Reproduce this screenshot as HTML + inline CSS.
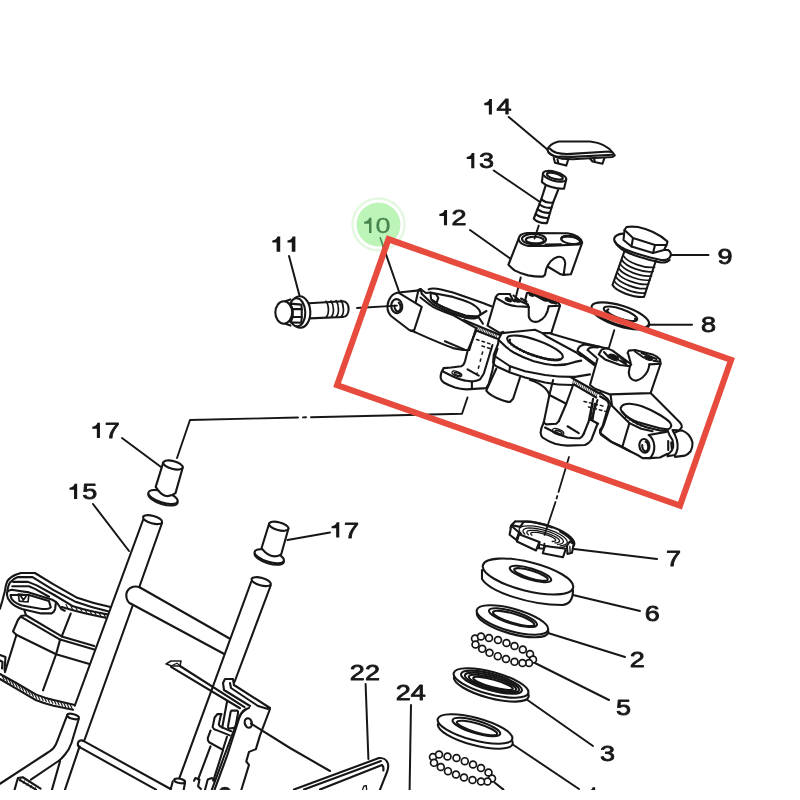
<!DOCTYPE html>
<html><head><meta charset="utf-8"><title>Parts diagram</title>
<style>
html,body{margin:0;padding:0;background:#fff;}
body{width:800px;height:800px;overflow:hidden;font-family:"Liberation Sans",sans-serif;}
svg{display:block;}
svg text{font-family:"Liberation Sans",sans-serif;font-size:21px;fill:#141414;stroke:none;}
</style></head><body>
<svg width="800" height="800" viewBox="0 0 800 800">
<defs><filter id="soft" x="0" y="0" width="800" height="800" filterUnits="userSpaceOnUse"><feGaussianBlur stdDeviation="0.7"/></filter></defs>
<rect width="800" height="800" fill="#ffffff"/>
<g filter="url(#soft)">
<g id="art" fill="none" stroke="#171717" stroke-width="2.1" stroke-linecap="round" stroke-linejoin="round">
<g id="leaders" stroke-width="2.0">
<line x1="508.75" y1="117" x2="548" y2="150"/>
<line x1="493.75" y1="170.5" x2="540" y2="202"/>
<line x1="470" y1="230" x2="509.8" y2="258.2"/>
<line x1="671" y1="255" x2="708.5" y2="255"/>
<line x1="648.75" y1="324.7" x2="692" y2="324.7"/>
<line x1="380" y1="237.25" x2="399.5" y2="293"/>
<line x1="289" y1="256" x2="299.6" y2="296"/>
<line x1="122" y1="438" x2="161" y2="467"/>
<line x1="93" y1="504" x2="129" y2="551"/>
<line x1="287.5" y1="540" x2="330" y2="532.5"/>
<line x1="365.6" y1="684" x2="368.4" y2="759"/>
<line x1="411" y1="705" x2="409.6" y2="790"/>
<line x1="574" y1="549" x2="657" y2="559"/>
<line x1="573" y1="595" x2="640" y2="611"/>
<line x1="548" y1="633" x2="625" y2="657"/>
<line x1="535" y1="663" x2="609" y2="700"/>
<line x1="526" y1="699" x2="593" y2="746"/>
<line x1="512" y1="744" x2="579" y2="789"/>
<line x1="494.5" y1="782.5" x2="503.5" y2="789.6"/>
</g>
<path d="M547.5,150 C548.5,146 552.5,143 558.75,141.5 L590,141.5 C600,142.5 609,147 613.5,153.5 L614.75,155.3 L612.5,157 L572.5,159.2 L561.25,158.6 C552,156 548,153.5 547.5,150 Z" fill="#fff"/>
<path d="M550,148.75 C553,152.5 560,154.6 571.25,153.9 L608.75,151.5 L611.9,152.3"/>
<path d="M548.6,152.6 C551,155.2 556,157 561.25,156.6 L572.5,156.9 L612.6,154.7"/>
<path d="M553.75,158.1 L555,162.75 L566.25,165.6 L568.1,160 M557.5,159.5 L558.5,163.5"/>
<path d="M590,158.5 L592.5,161.5 L602.5,163.75 L604.4,158.1 M594,158.3 L595,162"/>
<path d="M543,173.5 L541.9,181.9 C546,186 556,189 564,188.75 L566.25,179.4" fill="#fff"/>
<ellipse cx="554.6" cy="176.3" rx="12" ry="4.5" transform="rotate(15.4 554.6 176.3)" fill="#fff"/>
<ellipse cx="554.9" cy="176.2" rx="8.2" ry="2.7" transform="rotate(15.4 554.9 176.2)"/>
<path d="M545.6,185.6 L541.25,199.4 M558.1,190 L553.1,202.5"/>
<path d="M541.25,199.4 L533.75,218.75 Q538.5,223.6 546.9,223.1 L553.1,202.5"/>
<path d="M541.2,199.4 Q546.4,203.5 553.1,202.5"/>
<path d="M539.4,204.2 Q544.7,208.5 551.5,207.7"/>
<path d="M537.5,209.1 Q543.0,213.5 550.0,212.8"/>
<path d="M535.6,213.9 Q541.2,218.5 548.5,217.9"/>
<path d="M518.6,238.9 L508.4,264.75 C510.5,267 512.5,268.8 514.6,270.4 C519,272.8 523.5,274.4 528.1,275.4 C533,276.3 538,276.7 542.75,276.6 L545,274.9 L546.1,269.25 C547.3,266 548.8,263.5 550.6,261.4 C552.6,259.2 554.8,257.7 557.4,256.9 C559.6,256.4 561.5,256.8 563,258 C564.4,259.4 565.2,261.3 565.25,263.6 L563.6,274.9 L570.9,274.3 L582.1,242.8 Z" fill="#fff"/>
<path d="M518.6,238.9 C519,237 519.8,235.8 520.8,234.9 C522.5,233.8 524.5,233.2 527,233 L567.5,233.25 C571.5,233.8 575,235 577.6,236.6 C580,238.2 581.6,240.2 582.1,242.25 C581.4,243.5 580.3,244.2 578.75,244.5 L547.25,245.85 L528.1,245.85 C525.5,245.4 523.2,244.6 521.4,243.4 C519.8,242.2 518.8,240.6 518.6,238.9 Z" fill="#fff"/>
<ellipse cx="534" cy="239.2" rx="12" ry="5.2" transform="rotate(2 534 239.2)"/>
<ellipse cx="534.8" cy="240.1" rx="9" ry="3.3" transform="rotate(2 534.8 240.1)"/>
<ellipse cx="570.6" cy="240.2" rx="9.6" ry="3.6" transform="rotate(9 570.6 240.2)"/>
<path d="M561.9,237.8 L562.1,237.5 L562.4,237.1 L562.9,236.9 L563.4,236.6 L564.1,236.4 L564.8,236.2 L565.7,236.1 L566.6,236.1 L567.5,236.0 L568.5,236.0 L569.6,236.1 L570.6,236.2 L571.7,236.4 L572.7,236.6 L573.7,236.8 L574.7,237.1 L575.7,237.4 L576.5,237.7 L577.3,238.1 L578.0,238.5 L578.6,238.9 L579.1,239.3 L579.5,239.7 L579.8,240.1" stroke-width="2.6"/>
<path d="M545.5,244.6 L561,244.2"/>
<path d="M548.4,267 L560.75,274.3 L563.6,274.9"/>
<path d="M625.25,249 L612.5,285 C616,291 632,297.5 644,297 L656,260.25" fill="#fff"/>
<path d="M623.7,256.1 C627.7,262.6 644.5,268.8 654.5,267.2" stroke-width="1.75"/>
<path d="M622.1,260.2 C626.1,266.8 643.0,273.0 653.0,271.5" stroke-width="1.75"/>
<path d="M620.5,264.4 C624.5,270.9 641.5,277.2 651.5,275.8" stroke-width="1.75"/>
<path d="M618.9,268.5 C622.9,275.0 640.0,281.5 650.0,280.0" stroke-width="1.75"/>
<path d="M617.3,272.6 C621.3,279.1 638.5,285.8 648.5,284.2" stroke-width="1.75"/>
<path d="M615.7,276.8 C619.7,283.2 637.0,290.0 647.0,288.5" stroke-width="1.75"/>
<path d="M614.1,280.9 C618.1,287.4 635.5,294.2 645.5,292.8" stroke-width="1.75"/>
<path d="M623,233.6 C618.5,234 615.3,235.6 614.2,238.4 C613.8,240.5 615,242.6 617,244.3 C619.5,246.3 622,247.8 625,249.2 C631,251.8 638,254 645,256.1 C651,257.8 656,259.2 661,260 C664.5,260.4 667.2,259.8 669,258.2 C670.6,256.6 671.2,254.8 670.6,253 C670,251.6 669,250.6 668,250 L664,250" fill="#fff"/>
<path d="M614.6,241.2 C616.5,245 620.5,248.6 625,251.3 C631,254.3 638,256.6 645,258.6 C651,260.4 656,261.8 661,262.5 C664.5,262.8 667.5,262 669.6,260"/>
<path d="M624.5,230 L626.5,227 C630,226.4 634,226.5 638,227 C643,228 648,229.7 653,232 C658.5,234.6 663.5,237.8 667.5,241.5 L666.5,245 L664,250 L653,253 L631.5,246.5 L623.5,240 Z" fill="#fff"/>
<path d="M624.5,230 L633,238 L655,245 L666.5,245 M633,238 L631.5,246.5 M655,245 L653,253"/>
<ellipse cx="620.4" cy="316.6" rx="30" ry="9.6" transform="rotate(17.5 620.4 316.6)" fill="#fff"/>
<ellipse cx="620.25" cy="315.25" rx="30" ry="9.6" transform="rotate(17.5 620.25 315.25)" fill="#fff"/>
<ellipse cx="620.5" cy="313.9" rx="17.6" ry="4.9" transform="rotate(19 620.5 313.9)"/>
<path d="M635.0,318.6 L635.5,319.4 L635.5,320.0 L635.2,320.5 L634.6,320.9 L633.6,321.1 L632.2,321.2 L630.7,321.1 L628.8,320.8 L626.8,320.5 L624.6,320.0 L622.4,319.3 L620.1,318.6 L617.9,317.8 L615.7,316.9 L613.7,316.0 L611.9,315.0 L610.3,314.1 L609.0,313.2 L608.0,312.3 L607.4,311.5 L607.1,310.8 L607.2,310.2 L607.6,309.8 L608.4,309.4"/>
<path d="M309,303.2 L343,301.2 C346.5,301.5 348.6,305 348.6,309 C348.6,313.5 346.5,316.8 343,317 L309,318.4 Z" fill="#fff"/>
<path d="M326,301.2 C329.2,305 329.2,314 326.3,316.9" stroke-width="1.7"/>
<path d="M331,300.9 C334.2,305 334.2,314 331.3,316.7" stroke-width="1.7"/>
<path d="M336,300.6 C339.2,305 339.2,314 336.3,316.5" stroke-width="1.7"/>
<path d="M341,300.3 C344.2,305 344.2,314 341.3,316.3" stroke-width="1.7"/>
<ellipse cx="300" cy="312" rx="10.3" ry="15.7" transform="rotate(-2 300 312)" fill="#fff"/>
<ellipse cx="297" cy="312.3" rx="8.3" ry="14.1" transform="rotate(-2 297 312.3)" fill="#fff"/>
<path d="M292.75,309.1 L301.75,309.1 L301.75,317 L292.75,317 Z"/>
<path d="M290.2,303.6 L292.75,309.1 M301.75,309.1 L301.4,304.6 L290.2,303.6 M292.75,317 L290.5,322.4 L301.2,322.8 L301.75,317"/>
<path d="M284.9,301.4 L290.4,299.4 M284.9,323.6 L290.4,325.6"/>
<ellipse cx="283.75" cy="312.5" rx="8.4" ry="11.2" fill="#fff"/>
<ellipse cx="163" cy="498.6" rx="15.2" ry="5.6" transform="rotate(17 163 498.6)" fill="#fff"/>
<ellipse cx="163" cy="497" rx="15.2" ry="5.6" transform="rotate(17 163 497)" fill="#fff"/>
<path d="M163.3,462.4 L155.7,486.9 Q164.5,501.3 175.5,493.1 L182.7,467.6" fill="#fff"/>
<ellipse cx="173" cy="465" rx="10" ry="3.9" transform="rotate(15 173 465)" fill="#fff"/>
<ellipse cx="269.25" cy="557.85" rx="15.2" ry="5.6" transform="rotate(17 269.25 557.85)" fill="#fff"/>
<ellipse cx="269.25" cy="556.25" rx="15.2" ry="5.6" transform="rotate(17 269.25 556.25)" fill="#fff"/>
<path d="M269.1,523.7 L261.5,548.2 Q270.8,560.5 281.2,554.3 L288.4,528.8" fill="#fff"/>
<ellipse cx="278.75" cy="526.25" rx="10" ry="3.9" transform="rotate(15 278.75 526.25)" fill="#fff"/>
<path d="M251.3,581.5 L178.9,779.4 M270.7,585.5 L234.5,682"/>
<ellipse cx="261.2" cy="581.6" rx="9.9" ry="3.8" transform="rotate(15 261.2 581.6)" fill="#fff"/>
<path d="M140,587.5 L230,638.75 M131,603.75 L223.75,653.75"/>
<path d="M140,587.5 C134,584.8 127,588 126.3,594.5 C126,599.5 128.5,603 131,603.75"/>
<path d="M143.2,519.5 L74.75,705.75 M162,523 L139.3,587 M132.5,606 L84.5,740 M79.6,746.4 L65,789.6"/>
<ellipse cx="152.6" cy="519.6" rx="9.9" ry="3.8" transform="rotate(15 152.6 519.6)" fill="#fff"/>
<path d="M511.1,529.6 L510.6,527.8 L510.9,526.1 L511.9,524.6 L513.6,523.4 L516.0,522.5 L518.9,521.9 L522.4,521.5 L526.4,521.5 L530.7,521.9 L535.2,522.5 L540.0,523.4 L544.8,524.6 L549.5,526.0 L554.1,527.7 L558.4,529.5 L562.4,531.5 L565.9,533.6 L568.9,535.7 L571.3,537.8 L573.0,539.9 L574.0,541.8 L574.4,543.7 L574.0,545.3 L572.9,546.7" fill="#fff"/>
<path d="M521.3,533.5 L519.9,531.8 L519.1,530.2 L519.2,528.8 L520.1,527.6 L521.7,526.7 L524.1,526.1 L527.0,525.8 L530.5,525.8 L534.4,526.2 L538.7,526.9 L543.0,527.9 L547.4,529.1 L551.6,530.6 L555.6,532.2 L559.1,534.0 L562.1,535.8 L564.5,537.6 L566.2,539.4 L567.1,541.0 L567.3,542.5 L566.6,543.7 L565.2,544.7 L563.1,545.4 L560.3,545.8" stroke-width="1.3"/>
<path d="M524.9,534.1 L523.6,532.7 L523.0,531.4 L523.1,530.3 L523.8,529.4 L525.1,528.7 L527.1,528.2 L529.5,528.0 L532.5,528.1 L535.8,528.5 L539.3,529.1 L542.9,529.9 L546.6,531.0 L550.2,532.2 L553.5,533.5 L556.5,535.0 L559.0,536.5 L561.0,537.9 L562.5,539.3 L563.3,540.7 L563.4,541.8 L562.9,542.8 L561.7,543.6 L559.9,544.1 L557.6,544.3" stroke-width="1.3"/>
<path d="M528.4,534.7 L527.4,533.6 L526.9,532.6 L526.9,531.8 L527.4,531.2 L528.5,530.7 L530.1,530.4 L532.1,530.3 L534.4,530.4 L537.1,530.7 L539.9,531.3 L542.9,531.9 L545.8,532.8 L548.7,533.8 L551.4,534.8 L553.8,536.0 L555.9,537.1 L557.6,538.2 L558.8,539.3 L559.4,540.3 L559.6,541.2 L559.2,541.9 L558.2,542.4 L556.8,542.8 L554.9,542.9" stroke-width="1.3"/>
<path d="M532.0,535.2 L531.1,534.5 L530.7,533.8 L530.7,533.3 L531.1,532.8 L531.9,532.5 L533.1,532.3 L534.6,532.3 L536.4,532.4 L538.4,532.7 L540.6,533.1 L542.8,533.7 L545.1,534.3 L547.3,535.1 L549.4,535.9 L551.3,536.7 L552.9,537.5 L554.1,538.3 L555.1,539.1 L555.6,539.8 L555.7,540.4 L555.4,540.9 L554.7,541.2 L553.7,541.4 L552.2,541.5" stroke-width="1.3"/>
<path d="M565.4,546.1 L564.6,546.6 L563.5,547.0 L562.1,547.4 L560.4,547.5 L558.6,547.6 L556.5,547.5 L554.2,547.4 L551.8,547.1 L549.2,546.6 L546.6,546.1 L543.9,545.5 L541.2,544.7 L538.5,543.9 L535.9,543.1 L533.4,542.1 L531.0,541.1 L528.8,540.1 L526.8,539.0 L525.0,538.0 L523.4,536.9 L522.1,535.9 L521.1,534.9 L520.4,534.0 L520.0,533.1" stroke-width="1.5"/>
<path d="M511.8,525.2 L515.2,521.25 L523.6,521.8 L520.25,526.9 Z" fill="#fff"/>
<path d="M511.25,525.75 L509.6,534.75 L516.3,539.8 L519.1,532.5 Z" fill="#fff"/>
<path d="M519.1,534.2 L516.9,541.5 L536,550.5 L539.4,542 Z" fill="#fff"/>
<path d="M539.4,542 L538.8,548.25 L543.9,548.8 L544.4,543.75"/>
<path d="M545,546 L542.75,553.3 L563,557.25 L565.8,548.8 Z" fill="#fff"/>
<path d="M566.9,546 L567.5,553.9 L572,552.75 L573.7,543.75 L569.75,541.5 Z" fill="#fff"/>
<path d="M569.8,546.3 L570.2,553.2" stroke-width="1.3"/>
<path d="M523.6,521.8 C530,521 540,523 552,527.5 M560,531.5 C566,534.5 571,538.5 573.7,543.75"/>
<path d="M569,457 L558.5,492 M557.3,496 L556.6,498.5 M555.5,502 L544.5,535" stroke-width="1.8"/>
<path d="M482,570 L482,579 C490,592 530,605 562,605 C570,604.5 573,598 573,590" fill="#fff"/>
<ellipse cx="528" cy="576.5" rx="46.5" ry="14.5" transform="rotate(14 528 576.5)" fill="#fff"/>
<ellipse cx="530.5" cy="574" rx="21.6" ry="5.6" transform="rotate(17 530.5 574)"/>
<ellipse cx="531" cy="574.5" rx="17.5" ry="3.9" transform="rotate(17 531 574.5)"/>
<ellipse cx="512.6" cy="622.6" rx="37" ry="11.2" transform="rotate(15.7 512.6 622.6)" fill="#fff"/>
<ellipse cx="512.4" cy="620" rx="37" ry="11.2" transform="rotate(15.7 512.4 620)" fill="#fff"/>
<ellipse cx="513" cy="617.6" rx="25" ry="6.2" transform="rotate(17 513 617.6)"/>
<ellipse cx="513.6" cy="618.4" rx="21.5" ry="4.6" transform="rotate(17 513.6 618.4)"/>
<circle cx="475" cy="638.5" r="3.45" fill="#fff" stroke-width="1.7"/>
<circle cx="481" cy="636.5" r="3.45" fill="#fff" stroke-width="1.7"/>
<circle cx="489" cy="638" r="3.45" fill="#fff" stroke-width="1.7"/>
<circle cx="498" cy="640" r="3.45" fill="#fff" stroke-width="1.7"/>
<circle cx="506.5" cy="643" r="3.45" fill="#fff" stroke-width="1.7"/>
<circle cx="514.5" cy="646" r="3.45" fill="#fff" stroke-width="1.7"/>
<circle cx="522.8" cy="649.5" r="3.45" fill="#fff" stroke-width="1.7"/>
<circle cx="530" cy="654" r="3.45" fill="#fff" stroke-width="1.7"/>
<circle cx="533" cy="659.5" r="3.45" fill="#fff" stroke-width="1.7"/>
<circle cx="529" cy="663" r="3.45" fill="#fff" stroke-width="1.7"/>
<circle cx="522.5" cy="663" r="3.45" fill="#fff" stroke-width="1.7"/>
<circle cx="514.5" cy="661.8" r="3.45" fill="#fff" stroke-width="1.7"/>
<circle cx="506" cy="659" r="3.45" fill="#fff" stroke-width="1.7"/>
<circle cx="497.8" cy="656.2" r="3.45" fill="#fff" stroke-width="1.7"/>
<circle cx="489.5" cy="652.8" r="3.45" fill="#fff" stroke-width="1.7"/>
<circle cx="482.2" cy="648.8" r="3.45" fill="#fff" stroke-width="1.7"/>
<circle cx="475.5" cy="644.5" r="3.45" fill="#fff" stroke-width="1.7"/>
<ellipse cx="491.3" cy="686.9" rx="38.6" ry="11.2" transform="rotate(15 491.3 686.9)" fill="#fff"/>
<ellipse cx="491" cy="683" rx="38.6" ry="11.2" transform="rotate(15 491 683)" fill="#fff"/>
<ellipse cx="491.5" cy="682.2" rx="31.5" ry="8.2" transform="rotate(15.5 491.5 682.2)"/>
<ellipse cx="492" cy="682.6" rx="28" ry="6.8" transform="rotate(15.5 492 682.6)"/>
<ellipse cx="492.5" cy="683" rx="24.5" ry="5.4" transform="rotate(15.5 492.5 683)"/>
<ellipse cx="493" cy="683.4" rx="20.5" ry="3.8" transform="rotate(15.5 493 683.4)"/>
<ellipse cx="475.3" cy="734" rx="38.6" ry="11.2" transform="rotate(15 475.3 734)" fill="#fff"/>
<ellipse cx="475" cy="729" rx="38.6" ry="11.2" transform="rotate(15 475 729)" fill="#fff"/>
<ellipse cx="476.4" cy="727" rx="24.8" ry="6.2" transform="rotate(16.5 476.4 727)"/>
<ellipse cx="477" cy="728" rx="21" ry="4.4" transform="rotate(16.5 477 728)"/>
<circle cx="433" cy="757" r="3.45" fill="#fff" stroke-width="1.7"/>
<circle cx="439" cy="754.5" r="3.45" fill="#fff" stroke-width="1.7"/>
<circle cx="447.5" cy="756.5" r="3.45" fill="#fff" stroke-width="1.7"/>
<circle cx="456.5" cy="758" r="3.45" fill="#fff" stroke-width="1.7"/>
<circle cx="464.8" cy="761.2" r="3.45" fill="#fff" stroke-width="1.7"/>
<circle cx="473" cy="764.5" r="3.45" fill="#fff" stroke-width="1.7"/>
<circle cx="481" cy="768" r="3.45" fill="#fff" stroke-width="1.7"/>
<circle cx="488.5" cy="772.5" r="3.45" fill="#fff" stroke-width="1.7"/>
<circle cx="492" cy="778.5" r="3.45" fill="#fff" stroke-width="1.7"/>
<circle cx="487.5" cy="781.5" r="3.45" fill="#fff" stroke-width="1.7"/>
<circle cx="481" cy="781.5" r="3.45" fill="#fff" stroke-width="1.7"/>
<circle cx="472.5" cy="780" r="3.45" fill="#fff" stroke-width="1.7"/>
<circle cx="464" cy="777.5" r="3.45" fill="#fff" stroke-width="1.7"/>
<circle cx="456" cy="774.5" r="3.45" fill="#fff" stroke-width="1.7"/>
<circle cx="448" cy="771.2" r="3.45" fill="#fff" stroke-width="1.7"/>
<circle cx="440.8" cy="767" r="3.45" fill="#fff" stroke-width="1.7"/>
<circle cx="434" cy="762.8" r="3.45" fill="#fff" stroke-width="1.7"/>
<g id="bracket">
<path d="M398.6,292.5 C392.4,293.1 388,298.75 387.4,306.25 C387.3,312 390,315.5 393,317.5 L409.25,330 L413,331.25 C424.25,336.25 439.25,343.1 453,348.1 L463,350 L469.25,350"/>
<ellipse cx="396.75" cy="306.2" rx="5.5" ry="7.1" transform="rotate(-6 396.75 306.2)"/>
<path d="M398.7,302.7 L399.2,303.1 L399.6,303.7 L400.0,304.4 L400.3,305.2 L400.5,306.0 L400.6,306.9 L400.6,307.7 L400.5,308.6 L400.3,309.3 L399.9,310.0 L399.5,310.6 L399.1,311.0 L398.5,311.3 L398.0,311.4 L397.4,311.3 L396.9,311.1 L396.3,310.8 L395.8,310.3 L395.4,309.6 L395.1,308.9 L394.8,308.1 L394.6,307.2 L394.6,306.4 L394.6,305.5"/>
<path d="M398.6,292.5 L416.75,290.6 L420.5,289"/>
<path d="M399.25,293.1 L421.75,306.9 L414.25,330 L411,330.9"/>
<path d="M420.5,289 L418,291.9 L415.75,301.9"/>
<path d="M420.5,289 L426,293 L430.5,292.5 M420.8,290 L421.75,293.75"/>
<path d="M428.6,289.4 C431,288.3 435.5,288.3 441,289.5 L453,292.5 L483,303 L491.3,306.2"/>
<path d="M430.5,292.5 L436.75,293.75 L453,296.9 C460,299 466,301 470.5,303.1 C475,305.5 478,308 479.25,310 C480.6,312.5 480.6,314.4 479.9,315 C479,316.2 477.5,316.4 475.5,316.25 C472,316.3 468.5,316 465.5,315.6 L453,311.25 C446,308.5 440.5,306 436.75,303.75 C433,301.5 431,299.5 431,298.75 Z"/>
<path d="M431.2,293 L436,294.2 L438.3,297.8 L436.6,302.8 L432,300"/>
<path d="M421.75,293.75 C426,298 429,300.8 433,304.4 C439,308.2 446,311 453,313.6 L465.5,317.8 C470,318.6 475,318.6 478.5,317.2 L483,323.75"/>
<path d="M420.5,297.5 C425,301 429,304.5 433,306.9 C440,310.5 446,312.5 453,315 L476.1,328.1"/>
<path d="M433.5,301.8 l-1.0,2.4" stroke-width="1.25"/>
<path d="M435.2,302.6 l-1.0,2.4" stroke-width="1.25"/>
<path d="M436.9,303.4 l-1.0,2.4" stroke-width="1.25"/>
<path d="M438.6,304.3 l-1.0,2.4" stroke-width="1.25"/>
<path d="M440.3,305.1 l-1.0,2.4" stroke-width="1.25"/>
<path d="M442.0,305.9 l-1.0,2.4" stroke-width="1.25"/>
<path d="M443.7,306.7 l-1.0,2.4" stroke-width="1.25"/>
<path d="M445.4,307.6 l-1.0,2.4" stroke-width="1.25"/>
<path d="M447.1,308.4 l-1.0,2.4" stroke-width="1.25"/>
<path d="M448.8,309.2 l-1.0,2.4" stroke-width="1.25"/>
<path d="M450.5,310.0 l-1.0,2.4" stroke-width="1.25"/>
<path d="M452.2,310.9 l-1.0,2.4" stroke-width="1.25"/>
<path d="M453.9,311.6 l-1.0,2.4" stroke-width="1.25"/>
<path d="M455.6,312.2 l-1.0,2.4" stroke-width="1.25"/>
<path d="M457.3,312.7 l-1.0,2.4" stroke-width="1.25"/>
<path d="M459.0,313.3 l-1.0,2.4" stroke-width="1.25"/>
<path d="M460.7,313.9 l-1.0,2.4" stroke-width="1.25"/>
<path d="M462.4,314.5 l-1.0,2.4" stroke-width="1.25"/>
<path d="M464.1,315.1 l-1.0,2.4" stroke-width="1.25"/>
<path d="M465.8,315.6 l-1.0,2.4" stroke-width="1.25"/>
<path d="M467.5,315.8 l-1.0,2.4" stroke-width="1.25"/>
<path d="M469.2,315.9 l-1.0,2.4" stroke-width="1.25"/>
<path d="M470.9,316.0 l-1.0,2.4" stroke-width="1.25"/>
<path d="M472.6,316.1 l-1.0,2.4" stroke-width="1.25"/>
<path d="M474.3,316.3 l-1.0,2.4" stroke-width="1.25"/>
<path d="M476.0,316.4 l-1.0,2.4" stroke-width="1.25"/>
<path d="M476.1,328.1 L469.25,350"/>
<path d="M444.9,341.25 L464.25,349.4"/>
<path d="M479.9,315 L486.5,311"/>
<path d="M476.25,330.6 L467.5,351.25 L465,361.25 C464,364.5 463,365.8 461.25,366.25 L451.25,367.5 L443.75,368.1"/>
<path d="M443.75,368.1 C441.5,371 440.6,374 440.6,377.5 C441,380 442,381.5 443.75,382.5 C448,385 451,386.2 455,387.5 C459,388.7 463,389.2 466.25,389.4 L486.25,388.1 L488.75,383.75 L492.5,370 L495,356.25 L497.5,348.75"/>
<path d="M442.5,371.25 L452.5,376.25 C457,378.5 461,379.8 465,380.6 C468,381.3 471,381.5 473.75,381.25 C476.5,381 478.5,380.4 480,379.4 L483.75,373.75 L492.5,345"/>
<ellipse cx="456.9" cy="373.9" rx="5.2" ry="2.2" transform="rotate(22 456.9 373.9)" stroke-width="1.3"/>
<ellipse cx="457.3" cy="374.1" rx="3.2" ry="1.1" transform="rotate(22 457.3 374.1)" stroke-width="1.6"/>
<path d="M467.5,369.4 L478.75,375.6 M471.9,382 L471.9,389"/>
<path d="M463.75,320 L500,335 M476.25,330.6 L497.5,338.75"/>
<path d="M478.0,327.2 l-1.6,3.8" stroke-width="0.8"/>
<path d="M479.6,327.8 l-1.6,3.8" stroke-width="0.8"/>
<path d="M481.2,328.5 l-1.6,3.8" stroke-width="0.8"/>
<path d="M482.8,329.1 l-1.6,3.8" stroke-width="0.8"/>
<path d="M484.3,329.8 l-1.6,3.8" stroke-width="0.8"/>
<path d="M485.9,330.4 l-1.6,3.8" stroke-width="0.8"/>
<path d="M487.5,331.1 l-1.6,3.8" stroke-width="0.8"/>
<path d="M489.1,331.8 l-1.6,3.8" stroke-width="0.8"/>
<path d="M490.7,332.4 l-1.6,3.8" stroke-width="0.8"/>
<path d="M492.2,333.1 l-1.6,3.8" stroke-width="0.8"/>
<path d="M493.8,333.7 l-1.6,3.8" stroke-width="0.8"/>
<path d="M495.4,334.4 l-1.6,3.8" stroke-width="0.8"/>
<path d="M497.0,335.0 l-1.6,3.8" stroke-width="0.8"/>
<g stroke-width="1.5" stroke-dasharray="2.6 3.2">
<path d="M476.5,339.5 L492,344.5 M482,346 L493,349.5"/>
</g>
<g stroke-width="1.5" stroke-dasharray="2.4 4.8">
<path d="M482.6,352 L476.9,374"/>
</g>
<path d="M496.25,368.75 L486.25,390.6 C489,394.5 495,397.5 501,399.7 C505,401.2 508,402 510,401.9 L513.1,398.75 L520,377.5"/>
<path d="M530,380 C535,381.3 541,384.5 545,388 C547.5,390.5 548.8,393 549.4,395 L566.25,403.75"/>
<path d="M553.1,380 L549.4,395 L543.75,422.5 M573.1,385 L566.25,403.75 L558.75,421.25"/>
<path d="M501.9,333.1 L535,329.75 L542.5,333.1 L551.25,333.1"/>
<path d="M501.9,333.1 L498.75,338.75 L498.1,343.75 L493.75,355 L493.1,362.5 C494,364.5 495,365.5 496.25,366.25 L510,372.5 L525,377.5 L545,382.5 C555,384.5 565,385.2 575,385"/>
<path d="M495,356.25 L510,366.25 L525,371.25 L545,375 C555,376.5 565,377 575,376.9 L590,374.4"/>
<path d="M510,366.25 L509.4,372"/>
<path d="M498.75,340 C503,344.5 508,349 513.75,352.5 C520,356 527,359 533.75,361.25 C540,363 546,364.3 552.5,365 C560,365.6 568,364.5 575,361.9 L581.25,360.6"/>
<ellipse cx="535" cy="347.6" rx="29.4" ry="7.6" transform="rotate(19.4 535 347.6)"/>
<path d="M560.8,359.3 L559.7,359.8 L558.3,360.1 L556.5,360.2 L554.3,360.2 L551.9,360.0 L549.2,359.6 L546.2,359.1 L543.1,358.4 L539.9,357.5 L536.6,356.5 L533.3,355.4 L530.0,354.2 L526.9,352.9 L523.8,351.5 L521.0,350.1 L518.4,348.7 L516.0,347.3 L514.0,346.0 L512.3,344.7 L511.0,343.4 L510.1,342.3 L509.7,341.2 L509.6,340.3 L510.0,339.6"/>
<path d="M558.6,358.8 l-0.8,2.0" stroke-width="1.0"/>
<path d="M556.1,359.0 l-0.8,2.0" stroke-width="1.0"/>
<path d="M553.0,358.8 l-0.8,2.0" stroke-width="1.0"/>
<path d="M549.5,358.4 l-0.8,2.0" stroke-width="1.0"/>
<path d="M545.6,357.7 l-0.8,2.0" stroke-width="1.0"/>
<path d="M541.5,356.7 l-0.8,2.0" stroke-width="1.0"/>
<path d="M537.2,355.5 l-0.8,2.0" stroke-width="1.0"/>
<path d="M532.8,354.0 l-0.8,2.0" stroke-width="1.0"/>
<path d="M528.5,352.4 l-0.8,2.0" stroke-width="1.0"/>
<path d="M524.3,350.7 l-0.8,2.0" stroke-width="1.0"/>
<path d="M520.5,348.8 l-0.8,2.0" stroke-width="1.0"/>
<path d="M517.1,346.9 l-0.8,2.0" stroke-width="1.0"/>
<path d="M514.1,345.1 l-0.8,2.0" stroke-width="1.0"/>
<path d="M511.7,343.3 l-0.8,2.0" stroke-width="1.0"/>
<path d="M509.9,341.6 l-0.8,2.0" stroke-width="1.0"/>
<path d="M508.8,340.0 l-0.8,2.0" stroke-width="1.0"/>
<path d="M551.25,333.75 L581.25,342.5 L608.1,348.75"/>
<path d="M542.5,333.1 L546.25,336.25 L576.25,352.5 L581.25,356.25"/>
<path d="M577.5,351 C578,347.5 581,345 585,344.4 L600,346.9 M577.5,351 L595,363.75 M579,353.5 L594,365"/>
<path d="M587.5,350 C589,347.5 592,346.5 597.5,347.5 M587.5,350 L596.25,357.5"/>
<path d="M495.6,298 L487.5,325.6 L500,333.1 L503.1,331.9"/>
<path d="M495.6,297.5 C496.5,295.5 497.5,294.5 498.75,294 L510,294 M496.25,298.1 L506.25,303.75 C510,305.2 513,305.9 516.25,306.25 L528.75,306.9"/>
<ellipse cx="508.5" cy="299.8" rx="3.6" ry="1.7" transform="rotate(22 508.5 299.8)" fill="#171717" stroke-width="1.0"/>
<ellipse cx="517.3" cy="300.6" rx="3.2" ry="1.5" transform="rotate(14 517.3 300.6)" fill="#171717" stroke-width="1.0"/>
<path d="M510,294.5 L513.5,301 M513.5,295.5 L521,301.5 L528,304.5 M521,298.5 L526.5,301.5"/>
<path d="M528.75,306.9 L528.75,316.25 C529.3,318.8 530.7,320.5 532.5,321.25 C534.5,322 536.8,322 538.75,321.25 C541.5,320 543.5,318.3 545,316.25 C547,313.3 548.2,310 548.75,306.25"/>
<path d="M528.75,306.9 L525,301.25 L526.9,293.1 L530,292.5 L558.75,303.1 L560,305.6 L548.75,306.25"/>
<path d="M560,305.6 L551.25,333.1"/>
<ellipse cx="531.5" cy="294.8" rx="2.6" ry="1.3" transform="rotate(20 531.5 294.8)" fill="#171717" stroke-width="1.0"/>
<ellipse cx="544.5" cy="299.3" rx="3.6" ry="1.5" transform="rotate(20 544.5 299.3)" fill="#171717" stroke-width="1.0"/>
<ellipse cx="551.5" cy="301.8" rx="2.6" ry="1.2" transform="rotate(20 551.5 301.8)" fill="#171717" stroke-width="1.0"/>
<path d="M534,294.8 L541,298.6 M548,300.5 L556,303.6"/>
<path d="M571.25,377.5 L600,393.75 M573.75,384.4 L596.25,397.5"/>
<path d="M574.0,379.2 l-1.5,4.4" stroke-width="0.75"/>
<path d="M575.7,380.2 l-1.5,4.4" stroke-width="0.75"/>
<path d="M577.4,381.1 l-1.5,4.4" stroke-width="0.75"/>
<path d="M579.0,382.1 l-1.5,4.4" stroke-width="0.75"/>
<path d="M580.7,383.0 l-1.5,4.4" stroke-width="0.75"/>
<path d="M582.4,384.0 l-1.5,4.4" stroke-width="0.75"/>
<path d="M584.1,384.9 l-1.5,4.4" stroke-width="0.75"/>
<path d="M585.8,385.9 l-1.5,4.4" stroke-width="0.75"/>
<path d="M587.4,386.9 l-1.5,4.4" stroke-width="0.75"/>
<path d="M589.1,387.8 l-1.5,4.4" stroke-width="0.75"/>
<path d="M590.8,388.8 l-1.5,4.4" stroke-width="0.75"/>
<path d="M592.5,389.7 l-1.5,4.4" stroke-width="0.75"/>
<path d="M594.1,390.7 l-1.5,4.4" stroke-width="0.75"/>
<path d="M595.8,391.6 l-1.5,4.4" stroke-width="0.75"/>
<path d="M597.5,392.6 l-1.5,4.4" stroke-width="0.75"/>
<path d="M600,396.25 L606.25,400 C608,401.5 608.9,403 608.75,405 L602.5,426.25 L600,430 C599.8,432 600.3,433.8 601.25,435 L610,441.25 L621.25,446.25 L630,451.25"/>
<path d="M593.1,398.75 L588.75,421.25 L583.75,433.75 M597.5,400 L591.25,420 L598.1,423.75"/>
<path d="M592.5,403.75 L590,420 M595,403.75 L592.5,420"/>
<g stroke-width="1.5" stroke-dasharray="2.6 3.0">
<path d="M584,401.5 L603,406 M588.5,407 L606,411.5"/>
</g>
<path d="M543.75,422.5 C542,426 540.8,429.5 540.6,432.5 C540.8,434.8 541.5,436.5 542.5,437.5 C546,440 550,442 555,443.75 C559,444.8 563,445.4 567.5,445.6 L585,445 C588,443.8 590,442 591.25,440 L597.5,423.75"/>
<path d="M543.75,422.5 L546.25,424.4 L556.25,423.75 L558.75,421.25"/>
<path d="M545,427.5 L555,432.5 C559,434.5 563,436.2 567.5,437.5 C572,438.3 576,438.5 580,438.1 C582,437 583,435.5 583.75,433.75"/>
<ellipse cx="558.1" cy="431.9" rx="6" ry="2.7" transform="rotate(20 558.1 431.9)" stroke-width="1.3"/>
<ellipse cx="558.6" cy="432.2" rx="3.6" ry="1.3" transform="rotate(20 558.6 432.2)" stroke-width="1.7"/>
<path d="M567.5,426.25 L578.75,433.1"/>
<path d="M597.5,358.75 L590,385 L595,388.75 L610,394.4 L650.6,393.1 L660.6,363.75"/>
<path d="M598.75,354.4 L601.9,349.4 L606.9,348.1 L612.5,350.6 L631.25,364.4 L630,366.25 L620,365 L605,359.4 Z"/>
<ellipse cx="613.6" cy="357.4" rx="5.6" ry="2.6" transform="rotate(24 613.6 357.4)" fill="#171717" stroke-width="1.0"/>
<path d="M604,352 L609,357.5 M618,355 L626,362.5 M620,360.5 L626.5,364.6"/>
<path d="M630,365.6 L628.75,372.5 C629,375.5 629.8,377.5 631.25,378.75 C632.8,380.2 634.5,380.7 636.25,380.6 C638.5,380.2 640.6,379 642.5,377.5 C644.6,375.7 646.3,373.6 647.5,371.25 C648.5,369.2 649.1,367 649.4,364.4"/>
<path d="M630.6,362.5 L628.1,353.75 L627.5,353.1 L628.75,350.6 L635,350 L652.5,354.4 C656,355.8 658.5,357.6 660,359.4 L660.6,363.75 L649.4,364.4"/>
<ellipse cx="648.4" cy="358.2" rx="4.4" ry="1.8" transform="rotate(18 648.4 358.2)" fill="#171717" stroke-width="1.0"/>
<path d="M635,351.5 L643.5,357.5 M641.5,353 L656.5,359 M653.5,360.8 L659,361.6"/>
<path d="M650.6,393.1 L680,422.5 C681.5,424.3 682,425.8 681.9,426.9 L680,429.4"/>
<path d="M620.6,408.1 C621.5,406 623,404.6 625,404.2 C630,402.8 636,404.3 642.5,406.4 C649,408.8 655,411.8 660,415 C664.5,417.8 668,420.3 670,422.5 C671.4,424.4 671.4,426.4 670.6,427.5 C669.8,428.7 668.8,429.2 667.5,429.4 C662,428.8 657,427.7 652.5,426.25 C647,424.7 642,423.2 637.5,421.9 C632,419.8 628,417.6 625,415 C622.5,412.7 620.8,410.5 620.6,408.1 Z"/>
<path d="M622.5,411.8 C626,416.5 631,420.3 637.5,423.75 C642,425.8 647,427.8 652.5,428.75 C657.5,430.2 662,431 667.5,431.25"/>
<path d="M626.0,416.2 l-0.9,2.0" stroke-width="1.0"/>
<path d="M630.0,418.5 l-0.9,2.0" stroke-width="1.0"/>
<path d="M634.0,420.6 l-0.9,2.0" stroke-width="1.0"/>
<path d="M638.0,422.6 l-0.9,2.0" stroke-width="1.0"/>
<path d="M642.0,424.3 l-0.9,2.0" stroke-width="1.0"/>
<path d="M646.0,425.8 l-0.9,2.0" stroke-width="1.0"/>
<path d="M650.0,426.9 l-0.9,2.0" stroke-width="1.0"/>
<path d="M654.0,427.9 l-0.9,2.0" stroke-width="1.0"/>
<path d="M658.0,428.6 l-0.9,2.0" stroke-width="1.0"/>
<path d="M662.0,429.2 l-0.9,2.0" stroke-width="1.0"/>
<path d="M600,392.5 L607.5,398.75 L611.25,405 L617.5,411.25 L628.75,422.5"/>
<path d="M610.6,395 L611.9,405"/>
<path d="M610,406.25 L603.75,425 L600,432.5 L601.25,433.75 L612.5,442.5 L625,448.75 L637.5,455 L642.5,458.1 L650,458.1"/>
<path d="M629.4,423.1 L622.5,446.25"/>
<path d="M629.4,423.1 L641.25,428.75 L652.5,431.25"/>
<path d="M648.75,435 L666.25,431.9 M650,458.1 L660,457.5 L667.5,453.75"/>
<path d="M648.75,435 C652,437.5 654,441.5 654.3,446 C654.5,451 652.8,455.3 650,458.1"/>
<ellipse cx="644.4" cy="445.8" rx="5" ry="6.9" transform="rotate(-8 644.4 445.8)"/>
<path d="M645.6,441.6 L646.2,441.9 L646.7,442.4 L647.2,443.1 L647.6,443.9 L647.9,444.7 L648.1,445.7 L648.2,446.6 L648.2,447.6 L648.1,448.5 L647.9,449.3 L647.5,450.0 L647.1,450.5 L646.6,450.9 L646.0,451.1 L645.4,451.2 L644.8,451.0 L644.2,450.7 L643.7,450.2 L643.2,449.5 L642.8,448.7 L642.5,447.9 L642.3,446.9 L642.2,446.0 L642.2,445.0"/>
<path d="M667.5,430 L669.4,435 L672.5,440 C673.2,443 673.3,445 673.1,447.5 C672.5,449.6 671.3,451.3 670,452.5 L667.5,455"/>
<path d="M668.2,441 L668.2,450 M671.2,442.5 L671.8,448.7"/>
<path d="M672.5,430 L675,435 L676.9,440 C677.6,443 677.8,446 677.5,448.75 C677,451.3 676.2,453.4 675,455 L667.5,456.25"/>
<path d="M673.75,430 L682.5,430.6 C685,431.6 687,433 688.75,435 C690.6,437.3 691.9,439.8 692.5,442.5 C692.7,445.8 692,448.7 690.6,451.25 C689,453.3 687.2,454.7 685,455.6 L675,456.9"/>
<path d="M680,430.2 L675,432.5"/>
</g>
<g id="frame">
<path d="M0,608.75 L2.4,600.6 L4.9,590.9 C5.5,586 6.3,583.5 7.3,581.1 C9.5,578 12.5,576 16.25,574.6 L21.1,573 L34.9,573 L53.6,584.4 L76.4,597.4 C88,601.5 99,604.5 110.5,607.1"/>
<path d="M7.3,590.9 C7.8,587.5 8.6,585 9.75,582.75 C12,580 14.6,578.2 17.9,577.1 L32.5,577.1 L53.6,590.1 L74.75,601.4 C86,605.5 97,608.6 108,611.2"/>
<path d="M54.25,595 L73.1,606.3 C85,610 96,612.4 107.25,614.4 M61.75,607.1 C76,611.5 91,615 105.6,617.7"/>
<path d="M66.0,604.5 l1.6,3.2" stroke-width="1.1"/>
<path d="M70.8,605.7 l1.6,3.2" stroke-width="1.1"/>
<path d="M75.5,606.9 l1.6,3.2" stroke-width="1.1"/>
<path d="M80.2,608.1 l1.6,3.2" stroke-width="1.1"/>
<path d="M85.0,609.4 l1.6,3.2" stroke-width="1.1"/>
<path d="M89.8,610.6 l1.6,3.2" stroke-width="1.1"/>
<path d="M94.5,611.8 l1.6,3.2" stroke-width="1.1"/>
<path d="M99.2,613.0 l1.6,3.2" stroke-width="1.1"/>
<path d="M104.0,614.2 l1.6,3.2" stroke-width="1.1"/>
<path d="M7,592.4 C8,590.6 9.5,589.9 11.4,589.75 L28.9,592.4 L51.6,599.4 L56,602 L55.1,609 C54.4,611.4 53.2,612.8 51.6,613.4 L41.1,613.4 L21.9,609 C17,607.2 13,604.9 10.5,602 C8.4,599.8 7.2,597.5 7,595 Z"/>
<path d="M10.5,595 L28.9,595 L49,601.1 L50.75,607.25 C50,608.4 46,609.2 42,609 L21.9,605.5 C17,604 13.2,601.5 11.4,598.5 Z"/>
<path d="M56,602 L57.75,603.75 L61.25,609 L64.75,610.75"/>
<path d="M18.4,594.1 L28.9,595 L28,602 L19.25,601.1 Z M20.8,596 L23.4,600 L26,596.5" stroke-width="1.7"/>
<path d="M13.1,581.9 L28,581.9 L36.75,585.4 L54.25,595 M12.25,586.25 L28.9,586.25 L35,588.9 L49,596.75"/>
<path d="M24.4,610.4 L26,615.25 L21.1,616 L17.9,620 L13,631.5 L16.25,634.75"/>
<path d="M26,615.25 L61.75,636.4 L94.25,646.1 M21.1,616.9 L60.1,639.6 L94.25,649.4"/>
<path d="M16.25,634.75 L56.1,654.25 L89.4,664 M60.1,639.6 L56.1,654.25"/>
<path d="M70.7,613.6 L61.75,636.4 M56.1,654.25 L43,690.3"/>
<path d="M16.25,635.5 L4.9,672.1"/>
<path d="M0,674 L16.25,683 L35.75,694.4 C42,697 48,698.8 53.6,700 L74.75,705 M0,679 L16.25,688.7 L35.75,700 C42,702.6 48,704.4 53.6,705.75 L73.1,709.8"/>
<path d="M2.0,675.4 l2.2,4.4" stroke-width="1.15"/>
<path d="M5.2,677.3 l2.2,4.4" stroke-width="1.15"/>
<path d="M8.5,679.1 l2.2,4.4" stroke-width="1.15"/>
<path d="M11.7,681.0 l2.2,4.4" stroke-width="1.15"/>
<path d="M15.0,682.8 l2.2,4.4" stroke-width="1.15"/>
<path d="M18.2,684.7 l2.2,4.4" stroke-width="1.15"/>
<path d="M21.4,686.5 l2.2,4.4" stroke-width="1.15"/>
<path d="M24.7,688.4 l2.2,4.4" stroke-width="1.15"/>
<path d="M27.9,690.2 l2.2,4.4" stroke-width="1.15"/>
<path d="M31.1,692.1 l2.2,4.4" stroke-width="1.15"/>
<path d="M34.4,693.9 l2.2,4.4" stroke-width="1.15"/>
<path d="M37.6,695.2 l2.2,4.4" stroke-width="1.15"/>
<path d="M40.9,696.1 l2.2,4.4" stroke-width="1.15"/>
<path d="M44.1,697.0 l2.2,4.4" stroke-width="1.15"/>
<path d="M47.3,697.9 l2.2,4.4" stroke-width="1.15"/>
<path d="M50.6,698.9 l2.2,4.4" stroke-width="1.15"/>
<path d="M53.8,699.8 l2.2,4.4" stroke-width="1.15"/>
<path d="M57.0,700.7 l2.2,4.4" stroke-width="1.15"/>
<path d="M60.3,701.6 l2.2,4.4" stroke-width="1.15"/>
<path d="M63.5,702.5 l2.2,4.4" stroke-width="1.15"/>
<path d="M66.8,703.4 l2.2,4.4" stroke-width="1.15"/>
<path d="M70.0,704.3 l2.2,4.4" stroke-width="1.15"/>
<path d="M0,655 L5.5,657 L4.5,670 M0,660.5 L2.5,662 L2,668.5"/>
<path d="M67.4,714.7 L57.7,739.9 C56.5,743.5 55.3,746 53.6,748 C51.8,750 49.6,751.6 47.1,753 L0,783.75 M78.8,718.75 L71.5,743 C70,747.5 68,751 65,754.5 C63,757 61,759.3 58.5,761 L30.9,779.7"/>
<ellipse cx="73.1" cy="716.5" rx="6" ry="2.4" transform="rotate(15 73.1 716.5)" fill="#fff"/>
<path d="M60.1,761 L52,789.6"/>
<path d="M14.6,789.6 L17.9,778 L22.75,777.25 L40.6,788.6 M19.6,779.8 L36,789.6"/>
<path d="M21.0,778.4 l-1.2,2.6" stroke-width="0.9"/>
<path d="M24.6,780.7 l-1.2,2.6" stroke-width="0.9"/>
<path d="M28.2,783.0 l-1.2,2.6" stroke-width="0.9"/>
<path d="M31.8,785.3 l-1.2,2.6" stroke-width="0.9"/>
<path d="M35.4,787.6 l-1.2,2.6" stroke-width="0.9"/>
<path d="M82.9,740.7 L170.6,789 M79.6,747.2 L156,789.6"/>
<path d="M82.9,740.7 C80.5,739.8 78.3,741 77.9,743.2 C77.6,745.3 78.4,746.8 79.6,747.2"/>
<ellipse cx="179.6" cy="780.9" rx="5.6" ry="2.1" transform="rotate(12 179.6 780.9)" fill="#fff"/>
<path d="M172.7,781.4 L170.6,789.7 M185,782.8 L183.7,789.7"/>
<path d="M166,664 L171,661 L181,661 L180,666 L172,666 Z" stroke-width="1.5"/>
<path d="M172.5,665.2 L177,663.2 L179.5,665.4" stroke-width="1.2"/>
<path d="M171,666.8 L240,708.25 M180,666 L244.5,707.1"/>
<path d="M223,683 L225,679 L233,679 L234,685 L270,708 M223,683 L224,690 L250,706 M230,683 L231,688 L258,706 L268,709"/>
<path d="M270,709 L260,735.4 L255.9,749.1 L249,751.9 L246.25,761.5 L249,764.9 L241.4,789.7"/>
<path d="M249,707.9 C246.5,708.6 244.8,709.5 243.5,710.6 C241.5,712.6 240.2,715 239.4,717.5 L227,756 L214.6,789.7"/>
<path d="M246.2,709.3 C244,710.5 242,712.5 240.7,714.4 C239,717 237.8,719.5 236.6,723 L224.25,756 L211.9,789.7"/>
<ellipse cx="248.3" cy="723" rx="3.5" ry="4.8" transform="rotate(-15 248.3 723)" stroke-width="2.2"/>
<path d="M251,723.6 L290,748 L330,771"/>
<path d="M217.4,714.1 L214.6,717.5 L212.6,727.1 C213.3,728.6 214.5,729.5 216,729.9 L229.75,735.4 M217.4,714.1 L221.5,714.1 L220.8,715.5 L218.75,724.4 C219.3,726 220.3,726.8 221.5,727.1 L231.1,731.25"/>
<path d="M227,701.7 L222.2,727.8"/>
<path d="M231.8,710.6 L237.3,710.6 C238.2,711.2 238.3,712 238,713 L235.6,726.4 C235,727.6 234,728 233,728 L229,728.5 C228,728 227.8,727.3 228,726.4 L230.6,712 C230.8,711.2 231.2,710.8 231.8,710.6 Z"/>
<path d="M210.5,730.6 L207.75,738.1 C207.7,740 208.2,741.4 209.1,742.25 L222.9,749.8 L227,736.75"/>
<path d="M210.5,746.4 L198.1,779.4 M222.9,750.5 L213.25,780.75"/>
<path d="M194,780.75 L195.4,778 L199.5,779.4 L198.1,786.2 L200.9,789 M205,789.7 L207.75,779.4 L211.9,778 L214.6,780.75"/>
<path d="M220.1,789.3 C221.5,786.6 228.5,786.6 229.8,789.3 Z" fill="#171717" stroke-width="1.0"/>
<path d="M294,789.6 L379,758 M304,789.6 L381,761 M320,789.6 L382,765"/>
<path d="M379,758 C383.5,757.5 387,760 388,764 C388.6,767 388,769.5 387,772 L380,789.6"/>
<path d="M382,765 C383.5,766.5 383.8,768.3 383.3,770.5"/>
<path d="M362.6,789.6 L364,786 L366.3,785.6 L366.6,789.6" stroke-width="1.3"/>
</g>
<g id="axes" stroke-width="1.9">
<line x1="538.75" y1="225.6" x2="534.5" y2="238.5"/>
<line x1="520.75" y1="277.5" x2="514.75" y2="301.5"/>
<line x1="614.25" y1="330.25" x2="609" y2="347.5"/>
<line x1="357" y1="308" x2="397" y2="305.6"/>
<path d="M177,458 L190,420 L298,417.5 M303,417.4 L306,417.3 M311,417.2 L462,413.75 L467.5,397.5"/>
</g>
</g>
<circle cx="378.5" cy="224.5" r="26" fill="none" stroke="#e4f7e1" stroke-width="2.4"/>
<circle cx="378.5" cy="224.5" r="22" fill="#bdf4b8"/>
<path d="M380,237.25 L384.5,250" stroke="#478550" stroke-width="1.6" fill="none"/>
<path d="M371.45,233.00 L371.45,217.70 L369.30,217.70 C368.75,219.80 366.85,221.30 364.15,221.65 L364.15,223.75 L369.05,223.75 L369.05,233.00 Z" fill="#478550"/>
<text transform="translate(375.60,233.00) scale(1.25,1)" style="font-size:21.6px;fill:#478550;stroke:#478550;stroke-width:0.25px;stroke-linejoin:round">0</text>
<path d="M388.5,239.25 L731.1,359.9 L680,505.6 L337.1,385.1 Z" fill="none" stroke="#e74c3c" stroke-width="6.1" stroke-linejoin="miter"/>
<path d="M491.95,114.40 L491.95,99.10 L489.45,99.10 C488.90,101.20 487.00,102.70 484.30,103.05 L484.30,105.15 L488.85,105.15 L488.85,114.40 Z" fill="#151515"/>
<text transform="translate(496.62,114.40) scale(1.25,1)" style="font-size:21.6px;fill:#151515;stroke:#151515;stroke-width:0.8px;stroke-linejoin:round">4</text>
<path d="M474.35,168.30 L474.35,153.00 L471.85,153.00 C471.30,155.10 469.40,156.60 466.70,156.95 L466.70,159.05 L471.25,159.05 L471.25,168.30 Z" fill="#151515"/>
<text transform="translate(478.96,168.30) scale(1.25,1)" style="font-size:21.6px;fill:#151515;stroke:#151515;stroke-width:0.8px;stroke-linejoin:round">3</text>
<path d="M447.05,225.20 L447.05,209.90 L444.55,209.90 C444.00,212.00 442.10,213.50 439.40,213.85 L439.40,215.95 L443.95,215.95 L443.95,225.20 Z" fill="#151515"/>
<text transform="translate(451.60,225.20) scale(1.25,1)" style="font-size:21.6px;fill:#151515;stroke:#151515;stroke-width:0.8px;stroke-linejoin:round">2</text>
<text transform="translate(717.40,263.60) scale(1.25,1)" style="font-size:21.6px;fill:#151515;stroke:#151515;stroke-width:0.8px;stroke-linejoin:round">9</text>
<text transform="translate(701.00,332.00) scale(1.25,1)" style="font-size:21.6px;fill:#151515;stroke:#151515;stroke-width:0.8px;stroke-linejoin:round">8</text>
<path d="M99.95,438.00 L99.95,422.70 L97.45,422.70 C96.90,424.80 95.00,426.30 92.30,426.65 L92.30,428.75 L96.85,428.75 L96.85,438.00 Z" fill="#151515"/>
<text transform="translate(104.75,438.00) scale(1.25,1)" style="font-size:21.6px;fill:#151515;stroke:#151515;stroke-width:0.8px;stroke-linejoin:round">7</text>
<path d="M77.15,499.00 L77.15,483.70 L74.65,483.70 C74.10,485.80 72.20,487.30 69.50,487.65 L69.50,489.75 L74.05,489.75 L74.05,499.00 Z" fill="#151515"/>
<text transform="translate(82.30,499.00) scale(1.25,1)" style="font-size:21.6px;fill:#151515;stroke:#151515;stroke-width:0.8px;stroke-linejoin:round">5</text>
<path d="M339.25,537.60 L339.25,522.30 L336.75,522.30 C336.20,524.40 334.30,525.90 331.60,526.25 L331.60,528.35 L336.15,528.35 L336.15,537.60 Z" fill="#151515"/>
<text transform="translate(344.00,537.60) scale(1.25,1)" style="font-size:21.6px;fill:#151515;stroke:#151515;stroke-width:0.8px;stroke-linejoin:round">7</text>
<text transform="translate(349.70,680.00) scale(1.25,1)" style="font-size:21.6px;fill:#151515;stroke:#151515;stroke-width:0.8px;stroke-linejoin:round">2</text>
<text transform="translate(364.95,680.00) scale(1.25,1)" style="font-size:21.6px;fill:#151515;stroke:#151515;stroke-width:0.8px;stroke-linejoin:round">2</text>
<text transform="translate(395.80,700.30) scale(1.25,1)" style="font-size:21.6px;fill:#151515;stroke:#151515;stroke-width:0.8px;stroke-linejoin:round">2</text>
<text transform="translate(410.76,700.30) scale(1.25,1)" style="font-size:21.6px;fill:#151515;stroke:#151515;stroke-width:0.8px;stroke-linejoin:round">4</text>
<text transform="translate(666.00,566.00) scale(1.25,1)" style="font-size:21.6px;fill:#151515;stroke:#151515;stroke-width:0.8px;stroke-linejoin:round">7</text>
<text transform="translate(644.87,621.00) scale(1.25,1)" style="font-size:21.6px;fill:#151515;stroke:#151515;stroke-width:0.8px;stroke-linejoin:round">6</text>
<text transform="translate(629.80,667.00) scale(1.25,1)" style="font-size:21.6px;fill:#151515;stroke:#151515;stroke-width:0.8px;stroke-linejoin:round">2</text>
<text transform="translate(616.00,715.00) scale(1.25,1)" style="font-size:21.6px;fill:#151515;stroke:#151515;stroke-width:0.8px;stroke-linejoin:round">5</text>
<text transform="translate(600.06,761.00) scale(1.25,1)" style="font-size:21.6px;fill:#151515;stroke:#151515;stroke-width:0.8px;stroke-linejoin:round">3</text>
<path d="M595.15,802.50 L595.15,787.20 L592.65,787.20 C592.10,789.30 590.20,790.80 587.50,791.15 L587.50,793.25 L592.05,793.25 L592.05,802.50 Z" fill="#151515"/>
<path d="M280.20,251.80 L280.20,236.50 L277.45,236.50 C276.90,238.60 275.00,240.10 272.30,240.45 L272.30,242.55 L276.60,242.55 L276.60,251.80 Z" fill="#151515"/>
<path d="M295.40,251.80 L295.40,236.50 L292.65,236.50 C292.10,238.60 290.20,240.10 287.50,240.45 L287.50,242.55 L291.80,242.55 L291.80,251.80 Z" fill="#151515"/>
<rect x="0" y="790" width="800" height="10" fill="#fff"/>
</g>
</svg>
</body></html>
